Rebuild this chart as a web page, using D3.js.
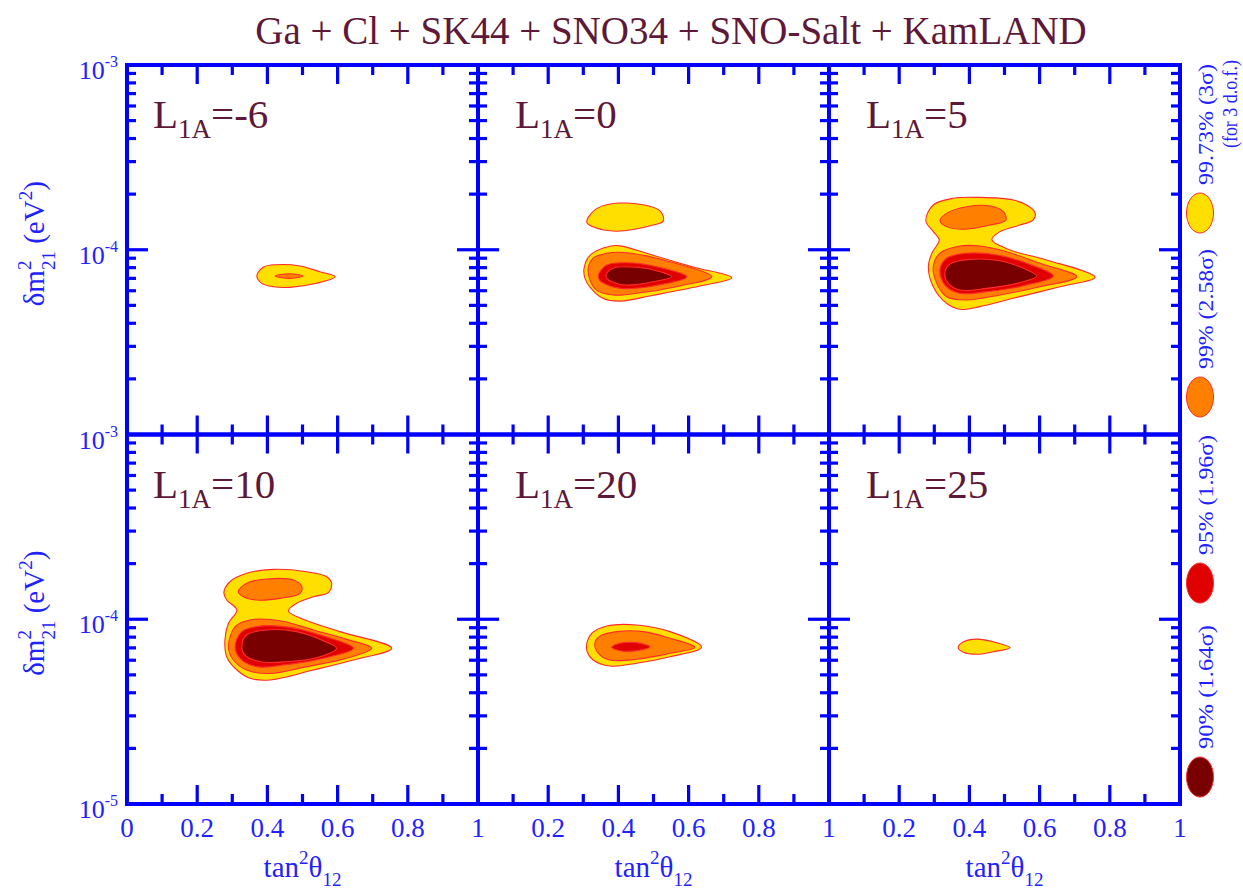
<!DOCTYPE html>
<html>
<head>
<meta charset="utf-8">
<script src="https://cdn.jsdelivr.net/npm/d3@7"></script>
<style>
  html, body { margin: 0; padding: 0; background: #fff; }
  svg { display: block; }
</style>
</head>
<body>
<script>
// ---- chart content ----
const titleText = "Ga + Cl + SK44 + SNO34 + SNO-Salt + KamLAND";
const panelL = ["-6", "0", "5", "10", "20", "25"];
const clLabels = ["99.73% (3σ)", "99% (2.58σ)", "95% (1.96σ)", "90% (1.64σ)"];
const clColors = ["#ffdf00", "#ff8000", "#e00000", "#780000"];
const xTickValues = [0.1, 0.2, 0.3, 0.4, 0.5, 0.6, 0.7, 0.8, 0.9];
const xLabelsFirst = [0, 0.2, 0.4, 0.6, 0.8, 1];
const xLabelsOther = [0.2, 0.4, 0.6, 0.8, 1];
const yDomain = [1e-5, 1e-3];
const yLabelsTop = [1e-3, 1e-4];
const yLabelsBottom = [1e-3, 1e-4, 1e-5];

// allowed regions, points are [tan²θ12, δm²21 (eV²)], cl = confidence level index
const regLm6 = [
  {cl: 0, pts: [[0.370,7.21e-5],[0.388,8.04e-5],[0.426,8.30e-5],[0.493,8.17e-5],[0.550,7.60e-5],[0.593,7.14e-5],[0.540,6.58e-5],[0.464,6.26e-5],[0.417,6.31e-5],[0.384,6.58e-5]]},
  {cl: 1, pts: [[0.422,7.21e-5],[0.462,7.42e-5],[0.501,7.21e-5],[0.462,7.0e-5]]}
];
const regL0 = [
  {cl: 0, pts: [[0.310,1.41e-4],[0.338,1.67e-4],[0.424,1.79e-4],[0.519,1.62e-4],[0.528,1.43e-4],[0.499,1.36e-4],[0.395,1.26e-4],[0.328,1.33e-4]]},
  {cl: 0, pts: [[0.302,7.91e-5],[0.319,9.33e-5],[0.376,1.045e-4],[0.405,1.05e-4],[0.499,9.33e-5],[0.613,8.07e-5],[0.723,7.06e-5],[0.642,6.42e-5],[0.499,5.67e-5],[0.405,5.27e-5],[0.357,5.44e-5],[0.319,6.28e-5],[0.305,6.98e-5]]},
  {cl: 1, pts: [[0.314,7.94e-5],[0.328,9.0e-5],[0.367,9.57e-5],[0.424,9.64e-5],[0.547,8.61e-5],[0.666,7.14e-5],[0.575,6.37e-5],[0.452,5.81e-5],[0.385,5.69e-5],[0.338,6.05e-5],[0.319,6.86e-5]]},
  {cl: 2, pts: [[0.343,7.30e-5],[0.367,8.26e-5],[0.424,8.51e-5],[0.499,8.17e-5],[0.595,7.14e-5],[0.499,6.37e-5],[0.405,6.18e-5],[0.362,6.53e-5],[0.346,6.86e-5]]},
  {cl: 3, pts: [[0.365,7.30e-5],[0.385,7.94e-5],[0.452,8.04e-5],[0.519,7.60e-5],[0.552,7.14e-5],[0.499,6.71e-5],[0.424,6.44e-5],[0.381,6.71e-5],[0.367,7.0e-5]]}
];
const regL5 = [
  {cl: 0, pts: [[0.276,1.436e-4],[0.297,1.746e-4],[0.354,1.90e-4],[0.430,1.92e-4],[0.525,1.86e-4],[0.563,1.746e-4],[0.587,1.59e-4],[0.582,1.45e-4],[0.544,1.36e-4],[0.487,1.253e-4],[0.464,1.13e-4],[0.516,9.97e-5],[0.620,8.81e-5],[0.758,7.10e-5],[0.658,6.31e-5],[0.525,5.46e-5],[0.430,4.92e-5],[0.373,4.76e-5],[0.335,5.13e-5],[0.297,6.31e-5],[0.283,8.09e-5],[0.293,9.57e-5],[0.314,1.13e-4],[0.297,1.253e-4]]},
  {cl: 1, pts: [[0.316,1.436e-4],[0.335,1.574e-4],[0.392,1.71e-4],[0.459,1.726e-4],[0.497,1.607e-4],[0.504,1.45e-4],[0.459,1.36e-4],[0.383,1.29e-4],[0.335,1.334e-4]]},
  {cl: 1, pts: [[0.297,8.09e-5],[0.316,9.57e-5],[0.373,1.047e-4],[0.430,1.047e-4],[0.506,9.75e-5],[0.601,8.45e-5],[0.706,7.14e-5],[0.601,6.31e-5],[0.487,5.69e-5],[0.392,5.35e-5],[0.335,5.57e-5],[0.307,6.58e-5]]},
  {cl: 2, pts: [[0.316,7.76e-5],[0.335,8.99e-5],[0.392,9.57e-5],[0.478,9.37e-5],[0.563,8.45e-5],[0.639,7.21e-5],[0.563,6.44e-5],[0.449,5.93e-5],[0.373,5.81e-5],[0.330,6.44e-5]]},
  {cl: 3, pts: [[0.330,7.46e-5],[0.345,8.38e-5],[0.402,8.87e-5],[0.487,8.72e-5],[0.554,7.94e-5],[0.592,7.21e-5],[0.544,6.64e-5],[0.449,6.18e-5],[0.373,6.05e-5],[0.340,6.58e-5]]}
];
const regL10 = [
  {cl: 0, pts: [[0.276,1.393e-4],[0.293,1.596e-4],[0.341,1.774e-4],[0.417,1.862e-4],[0.512,1.807e-4],[0.569,1.70e-4],[0.583,1.566e-4],[0.574,1.393e-4],[0.531,1.325e-4],[0.483,1.22e-4],[0.460,1.109e-4],[0.502,1.0e-4],[0.607,8.57e-5],[0.754,6.97e-5],[0.645,6.02e-5],[0.531,5.31e-5],[0.407,4.69e-5],[0.350,4.79e-5],[0.308,5.43e-5],[0.284,6.27e-5],[0.279,7.73e-5],[0.289,9.51e-5],[0.313,1.122e-4],[0.284,1.271e-4]]},
  {cl: 1, pts: [[0.317,1.41e-4],[0.341,1.566e-4],[0.398,1.652e-4],[0.474,1.63e-4],[0.498,1.50e-4],[0.493,1.38e-4],[0.436,1.297e-4],[0.370,1.271e-4],[0.332,1.325e-4]]},
  {cl: 1, pts: [[0.289,7.10e-5],[0.308,9.12e-5],[0.350,9.91e-5],[0.436,9.82e-5],[0.531,8.75e-5],[0.626,7.78e-5],[0.697,6.97e-5],[0.626,6.15e-5],[0.512,5.54e-5],[0.407,5.09e-5],[0.341,5.31e-5],[0.303,6.02e-5]]},
  {cl: 2, pts: [[0.308,7.10e-5],[0.327,8.57e-5],[0.379,9.18e-5],[0.464,9.04e-5],[0.559,8.11e-5],[0.645,6.97e-5],[0.559,6.15e-5],[0.445,5.65e-5],[0.370,5.54e-5],[0.322,6.15e-5]]},
  {cl: 3, pts: [[0.327,7.10e-5],[0.341,8.22e-5],[0.398,8.75e-5],[0.483,8.57e-5],[0.559,7.66e-5],[0.597,6.97e-5],[0.550,6.27e-5],[0.455,5.89e-5],[0.379,5.89e-5],[0.336,6.40e-5]]}
];
const regL20 = [
  {cl: 0, pts: [[0.310,7.41e-5],[0.324,8.39e-5],[0.367,9.19e-5],[0.452,9.31e-5],[0.547,8.57e-5],[0.637,7.05e-5],[0.547,6.27e-5],[0.452,5.78e-5],[0.376,5.58e-5],[0.328,6.02e-5],[0.311,6.67e-5]]},
  {cl: 1, pts: [[0.333,7.41e-5],[0.348,8.11e-5],[0.395,8.57e-5],[0.471,8.57e-5],[0.547,7.89e-5],[0.618,7.05e-5],[0.547,6.54e-5],[0.452,6.07e-5],[0.376,6.02e-5],[0.343,6.54e-5]]},
  {cl: 2, pts: [[0.381,7.05e-5],[0.405,7.41e-5],[0.452,7.47e-5],[0.490,7.10e-5],[0.452,6.76e-5],[0.405,6.76e-5]]}
];
const regL25 = [
  {cl: 0, pts: [[0.368,7.01e-5],[0.383,7.55e-5],[0.421,7.81e-5],[0.468,7.55e-5],[0.516,7.01e-5],[0.468,6.67e-5],[0.421,6.46e-5],[0.383,6.62e-5]]}
];
const panelRegions = [regLm6, regL0, regL5, regL10, regL20, regL25];

// ---- layout ----
const W = 1243, H = 895;
const plotLeft = 127, plotRight = 1180, plotTop = 65, plotBottom = 804;
const nCols = 3, nRows = 2;
const panelW = (plotRight - plotLeft) / nCols;
const panelH = (plotBottom - plotTop) / nRows;
const axisBlue = "#0000ff";
const textBlue = "#2222ff";
const maroon = "#5e1838";
const serif = "'Liberation Serif', 'Times New Roman', serif";

const svg = d3.select("body").append("svg")
  .attr("width", W).attr("height", H)
  .attr("viewBox", `0 0 ${W} ${H}`);
svg.append("rect").attr("width", W).attr("height", H).attr("fill", "#fff");

// title
svg.append("text")
  .attr("x", 671).attr("y", 44)
  .attr("text-anchor", "middle")
  .attr("font-family", serif).attr("font-size", 39)
  .attr("fill", maroon)
  .text(titleText);

const defs = svg.append("defs");

panelL.forEach((lval, i) => {
  const col = i % nCols, row = Math.floor(i / nCols);
  const x0 = plotLeft + col * panelW, x1 = x0 + panelW;
  const y0 = plotTop + row * panelH, y1 = y0 + panelH;
  const xs = d3.scaleLinear().domain([0, 1]).range([x0, x1]);
  const ys = d3.scaleLog().domain(yDomain).range([y1, y0]);

  const clipId = "clip" + i;
  defs.append("clipPath").attr("id", clipId)
    .append("rect").attr("x", x0).attr("y", y0).attr("width", panelW).attr("height", panelH);

  const g = svg.append("g");

  // allowed regions, outer levels first
  const line = d3.line()
    .x(d => xs(d[0])).y(d => ys(d[1]))
    .curve(d3.curveCatmullRomClosed.alpha(0.5));
  const regs = panelRegions[i].slice().sort((a, b) => a.cl - b.cl);
  g.append("g").attr("clip-path", `url(#${clipId})`)
    .selectAll("path").data(regs).join("path")
    .attr("d", d => line(d.pts))
    .attr("fill", d => clColors[d.cl])
    .attr("stroke", "#ff2b2b")
    .attr("stroke-width", 1.1)
    .attr("stroke-linejoin", "round");

  // frame
  g.append("rect")
    .attr("x", x0).attr("y", y0).attr("width", panelW).attr("height", panelH)
    .attr("fill", "none").attr("stroke", axisBlue).attr("stroke-width", 4);

  const tg = g.append("g").attr("stroke", axisBlue).attr("stroke-width", 3.2);

  // δm² ticks on left and right edges (log scale)
  const yt = ys.ticks().filter(v => v > yDomain[0] * 1.0001 && v < yDomain[1] * 0.9999);
  yt.forEach(v => {
    const major = Math.abs(Math.log10(v) - Math.round(Math.log10(v))) < 1e-6;
    const len = major ? 21 : 9;
    const y = ys(v);
    tg.append("line").attr("x1", x0).attr("x2", x0 + len).attr("y1", y).attr("y2", y);
    tg.append("line").attr("x1", x1).attr("x2", x1 - len).attr("y1", y).attr("y2", y);
  });

  // tan² ticks on bottom and top edges
  xTickValues.forEach((v, k) => {
    const major = (k % 2) === 1;
    const len = major ? 19 : 10;
    const x = xs(v);
    tg.append("line").attr("x1", x).attr("x2", x).attr("y1", y1).attr("y2", y1 - len);
    tg.append("line").attr("x1", x).attr("x2", x).attr("y1", y0).attr("y2", y0 + len);
  });

  // panel label  L_1A = value
  const lab = g.append("text")
    .attr("x", x0 + (col === 0 ? 26 : 37)).attr("y", y0 + 63)
    .attr("font-family", serif).attr("font-size", 41)
    .attr("fill", maroon);
  lab.append("tspan").text("L");
  lab.append("tspan").attr("font-size", 27).attr("dy", 10).text("1A");
  lab.append("tspan").attr("dy", -10).text("=" + lval);

  // δm² tick labels on the first column
  if (col === 0) {
    const vals = row === nRows - 1 ? yLabelsBottom : yLabelsTop;
    vals.forEach(v => {
      const t = g.append("text")
        .attr("x", x0 - 9).attr("y", ys(v) + 14)
        .attr("text-anchor", "end")
        .attr("font-family", serif).attr("font-size", 26)
        .attr("fill", textBlue);
      t.append("tspan").text("10");
      t.append("tspan").attr("font-size", 16).attr("dy", -12).text(String(Math.round(Math.log10(v))));
    });

    // vertical axis title  δm²21 (eV²)
    const cy = (y0 + y1) / 2 - 6;
    const at = g.append("text")
      .attr("transform", `translate(44,${cy}) rotate(-90)`)
      .attr("text-anchor", "middle")
      .attr("font-family", serif).attr("font-size", 29)
      .attr("fill", textBlue);
    at.append("tspan").text("δm");
    at.append("tspan").attr("font-size", 19).attr("dy", -13).text("2");
    at.append("tspan").attr("font-size", 19).attr("dx", -9.5).attr("dy", 24).text("21");
    at.append("tspan").attr("dy", -11).text(" (eV");
    at.append("tspan").attr("font-size", 19).attr("dy", -12).text("2");
    at.append("tspan").attr("dy", 12).text(")");
  }

  // tan² tick labels and axis title on the bottom row
  if (row === nRows - 1) {
    const vals = col === 0 ? xLabelsFirst : xLabelsOther;
    g.selectAll("text.xl").data(vals).join("text")
      .attr("class", "xl")
      .attr("x", d => xs(d)).attr("y", 837)
      .attr("text-anchor", "middle")
      .attr("font-family", serif).attr("font-size", 27)
      .attr("fill", textBlue)
      .text(d => d3.format("")(d));

    const xt = g.append("text")
      .attr("x", (x0 + x1) / 2).attr("y", 877)
      .attr("text-anchor", "middle")
      .attr("font-family", serif).attr("font-size", 29)
      .attr("fill", textBlue);
    xt.append("tspan").text("tan");
    xt.append("tspan").attr("font-size", 19).attr("dy", -13).text("2");
    xt.append("tspan").attr("dy", 13).text("θ");
    xt.append("tspan").attr("font-size", 19).attr("dy", 9).text("12");
  }
});

// ---- confidence-level key along the right edge ----
const keyY = [213, 397, 583, 777];
const keyTextLen = [121, 120, 120, 124];
const key = svg.append("g");
clLabels.forEach((lab, k) => {
  const cy = keyY[k];
  key.append("ellipse")
    .attr("cx", 1200).attr("cy", cy).attr("rx", 13.5).attr("ry", 20)
    .attr("fill", clColors[k]).attr("stroke", "#ff2b2b").attr("stroke-width", 1);
  key.append("text")
    .attr("transform", `translate(1213,${cy - 28}) rotate(-90)`)
    .attr("font-family", serif).attr("font-size", 20)
    .attr("fill", textBlue)
    .attr("textLength", keyTextLen[k]).attr("lengthAdjust", "spacingAndGlyphs")
    .text(lab);
});
key.append("text")
  .attr("transform", `translate(1237,148) rotate(-90)`)
  .attr("font-family", serif).attr("font-size", 20)
  .attr("fill", textBlue)
  .attr("textLength", 88).attr("lengthAdjust", "spacingAndGlyphs")
  .text("(for 3 d.o.f.)");
</script>
</body>
</html>
